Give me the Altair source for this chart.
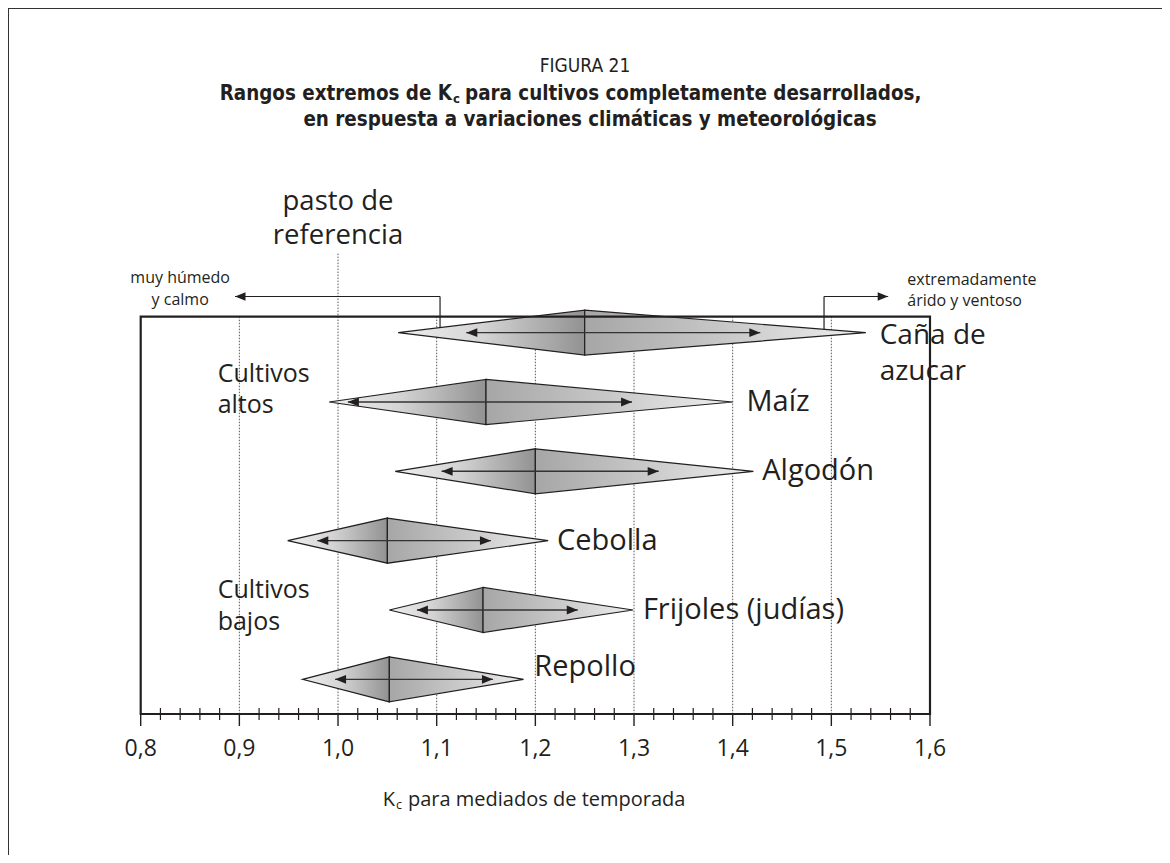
import altair as alt
import pandas as pd

# ---------------- data ----------------
crops = ["Caña de azucar", "Maíz", "Algodón", "Cebolla", "Frijoles (judías)", "Repollo"]
row = [6, 5, 4, 3, 2, 1]
kc_low = [1.061, 0.991, 1.058, 0.949, 1.052, 0.964]
kc_mid = [1.25, 1.15, 1.20, 1.05, 1.147, 1.052]
kc_high = [1.535, 1.40, 1.421, 1.213, 1.299, 1.188]
arrow_low = [1.130, 1.010, 1.105, 0.979, 1.080, 0.997]
arrow_high = [1.428, 1.298, 1.325, 1.155, 1.243, 1.157]
half_h = 0.325

major_ticks = [0.8, 0.9, 1.0, 1.1, 1.2, 1.3, 1.4, 1.5, 1.6]
tick_labels = ["0,8", "0,9", "1,0", "1,1", "1,2", "1,3", "1,4", "1,5", "1,6"]
minor_ticks = [0.82, 0.84, 0.86, 0.88, 0.92, 0.94, 0.96, 0.98,
               1.02, 1.04, 1.06, 1.08, 1.12, 1.14, 1.16, 1.18,
               1.22, 1.24, 1.26, 1.28, 1.32, 1.34, 1.36, 1.38,
               1.42, 1.44, 1.46, 1.48, 1.52, 1.54, 1.56, 1.58]
grid_x = [0.9, 1.0, 1.1, 1.2, 1.3, 1.4, 1.5]
grid_top = [6.23, 7.14, 6.23, 6.23, 6.23, 6.23, 6.23]

label_left_text = ["Caña de", "azucar", "Maíz", "Algodón", "Cebolla", "Frijoles (judías)", "Repollo",
                   "Cultivos", "altos", "Cultivos", "bajos", "extremadamente", "árido y ventoso"]
label_left_x = [1.549, 1.549, 1.414, 1.430, 1.222, 1.309, 1.199,
                0.878, 0.878, 0.878, 0.878, 1.577, 1.577]
label_left_y = [5.954, 5.434, 5.0, 4.0, 3.0, 2.0, 1.18,
                5.405, 4.958, 2.289, 1.827, 6.764, 6.461]
label_left_fs = [28, 28, 29, 29, 29, 29, 29, 25, 25, 25, 25, 16, 16]

label_center_text = ["pasto de", "referencia", "muy húmedo", "y calmo"]
label_center_x = [1.0, 1.0, 0.840, 0.840]
label_center_y = [7.887, 7.397, 6.791, 6.474]
label_center_fs = [27.5, 27.5, 16, 16]

# bracket annotations: (x, x2, y, y2)
bracket_x = [0.8956, 1.1034, 1.4926, 1.4926]
bracket_x2 = [1.1034, 1.1034, 1.5576, 1.4926]
bracket_y = [6.521, 6.521, 6.521, 6.521]
bracket_y2 = [6.521, 6.0, 6.521, 6.0]
bracket_tip_left = [0.8956]
bracket_tip_right = [1.5576]
bracket_tip_y = [6.521]

# ---------------- layout ----------------
W, H = 1154, 847
INK = "#231f20"
FONT = "Open Sans"
TFONT = "Liberation Sans Narrow, DejaVu Sans Condensed, Roboto, sans-serif"

xs = alt.Scale(domain=[0.8, 1.6], range=[132.7, 922])
ys = alt.Scale(domain=[0.5, 6.23], range=[706, 308.7])

left_rows, right_rows = [], []
for c, r, lo, mi, hi in zip(crops, row, kc_low, kc_mid, kc_high):
    left_rows += [dict(crop=c, x=lo, top=r, bot=r), dict(crop=c, x=mi, top=r + half_h, bot=r - half_h)]
    right_rows += [dict(crop=c, x=mi, top=r + half_h, bot=r - half_h), dict(crop=c, x=hi, top=r, bot=r)]
left_df = pd.DataFrame(left_rows)
right_df = pd.DataFrame(right_rows)
arrows_df = pd.DataFrame(dict(crop=crops, r=row, lo=arrow_low, hi=arrow_high))

grad_left = alt.LinearGradient(
    gradient="linear", x1=0, x2=1, y1=0, y2=0,
    stops=[alt.GradientStop(offset=0, color="#efefef"),
           alt.GradientStop(offset=0.45, color="#d4d4d4"),
           alt.GradientStop(offset=1, color="#929292")])
grad_right = alt.LinearGradient(
    gradient="linear", x1=0, x2=1, y1=0, y2=0,
    stops=[alt.GradientStop(offset=0, color="#a6a6a6"),
           alt.GradientStop(offset=0.5, color="#c8c8c8"),
           alt.GradientStop(offset=1, color="#eeeeee")])

def X(f):
    return alt.X(f, scale=xs, axis=None)

def Y(f):
    return alt.Y(f, scale=ys, axis=None)

dummy = pd.DataFrame({"a": [0]})

grid = alt.Chart(pd.DataFrame(dict(x=grid_x, top=grid_top))).mark_rule(
    color="#444444", strokeWidth=0.9, strokeDash=[1.5, 1.5]
).encode(x=X("x:Q"), y=Y("top:Q"), y2=alt.Y2(datum=0.5))

brackets = alt.Chart(pd.DataFrame(dict(x=bracket_x, x2=bracket_x2, y=bracket_y, y2=bracket_y2))).mark_rule(
    color=INK, strokeWidth=1.2
).encode(x=X("x:Q"), x2="x2:Q", y=Y("y:Q"), y2="y2:Q")

LEFT_HEAD = "M0,0L2,-0.8L2,0.8Z"
RIGHT_HEAD = "M0,0L-2,-0.8L-2,0.8Z"

btip_l = alt.Chart(pd.DataFrame(dict(x=bracket_tip_left, y=bracket_tip_y))).mark_point(
    shape=LEFT_HEAD, size=110, filled=True, color=INK, opacity=1, strokeWidth=0
).encode(x=X("x:Q"), y=Y("y:Q"))
btip_r = alt.Chart(pd.DataFrame(dict(x=bracket_tip_right, y=bracket_tip_y))).mark_point(
    shape=RIGHT_HEAD, size=110, filled=True, color=INK, opacity=1, strokeWidth=0
).encode(x=X("x:Q"), y=Y("y:Q"))

left_half = alt.Chart(left_df).mark_area(
    color=grad_left, stroke=INK, strokeWidth=1.2, opacity=1
).encode(x=X("x:Q"), y=Y("top:Q"), y2="bot:Q", detail="crop:N")
right_half = alt.Chart(right_df).mark_area(
    color=grad_right, stroke=INK, strokeWidth=1.2, opacity=1
).encode(x=X("x:Q"), y=Y("top:Q"), y2="bot:Q", detail="crop:N")

arrow_lines = alt.Chart(arrows_df).mark_rule(color="#333333", strokeWidth=1.4).encode(
    x=X("lo:Q"), x2="hi:Q", y=Y("r:Q"))
arrow_l = alt.Chart(arrows_df).mark_point(
    shape=LEFT_HEAD, size=121, filled=True, color=INK, opacity=1, strokeWidth=0
).encode(x=X("lo:Q"), y=Y("r:Q"))
arrow_r = alt.Chart(arrows_df).mark_point(
    shape=RIGHT_HEAD, size=121, filled=True, color=INK, opacity=1, strokeWidth=0
).encode(x=X("hi:Q"), y=Y("r:Q"))

box = alt.Chart(pd.DataFrame(dict(x0=[0.8], x1=[1.6], y0=[0.5], y1=[6.23]))).mark_rect(
    fillOpacity=0, stroke=INK, strokeWidth=2.2
).encode(x=X("x0:Q"), x2="x1:Q", y=Y("y0:Q"), y2="y1:Q")

# axis drawn through the x scale: minor ticks cross the axis line, major ticks hang below it
minor = alt.Chart(pd.DataFrame(dict(x=minor_ticks))).mark_rule(color=INK, strokeWidth=1.2).encode(
    x=X("x:Q"), y=alt.Y(datum=0.413, scale=ys, axis=None), y2=alt.Y2(datum=0.587))
major = alt.Chart(pd.DataFrame(dict(x=major_ticks))).mark_rule(color=INK, strokeWidth=1.4).encode(
    x=X("x:Q"), y=alt.Y(datum=0.327, scale=ys, axis=None), y2=alt.Y2(datum=0.5))
tick_text = alt.Chart(pd.DataFrame(dict(x=major_ticks, t=tick_labels))).mark_text(
    align="center", baseline="middle", font=FONT, fontSize=23, color=INK
).encode(x=X("x:Q"), y=alt.Y(datum=-0.01, scale=ys, axis=None), text="t:N")

labels_left = alt.Chart(pd.DataFrame(dict(t=label_left_text, x=label_left_x, y=label_left_y, fs=label_left_fs))).mark_text(
    align="left", baseline="middle", font=FONT, color=INK
).encode(x=X("x:Q"), y=Y("y:Q"), text="t:N", size=alt.Size("fs:Q", scale=None, legend=None))

labels_center = alt.Chart(pd.DataFrame(dict(t=label_center_text, x=label_center_x, y=label_center_y, fs=label_center_fs))).mark_text(
    align="center", baseline="middle", font=FONT, color=INK
).encode(x=X("x:Q"), y=Y("y:Q"), text="t:N", size=alt.Size("fs:Q", scale=None, legend=None))

def txt(s, x, y, size, align="left", weight="normal", font=FONT):
    return alt.Chart(dummy).mark_text(
        align=align, baseline="middle", font=font, fontSize=size, fontWeight=weight, color=INK
    ).encode(x=alt.value(x), y=alt.value(y), text=alt.value(s))

titles = [
    txt("FIGURA 21", 577, 58, 19, align="center", font=TFONT),
    txt("Rangos extremos de K", 444, 86, 20.4, align="right", weight="bold", font=TFONT),
    txt("c", 445, 91, 13, align="left", weight="bold", font=TFONT),
    txt("para cultivos completamente desarrollados,", 457, 86, 20.4, align="left", weight="bold", font=TFONT),
    txt("en respuesta a variaciones climáticas y meteorológicas", 582, 112, 20.4, align="center", weight="bold", font=TFONT),
    txt("K", 387, 792, 20, align="right"),
    txt("c", 388, 797, 12.5, align="left"),
    txt("para mediados de temporada", 400, 792, 20, align="left"),
]

frame_left = alt.Chart(dummy).mark_rule(color="#333333", strokeWidth=2).encode(
    x=alt.value(0), y=alt.value(0), y2=alt.value(H))
frame_top = alt.Chart(dummy).mark_rule(color="#333333", strokeWidth=2).encode(
    y=alt.value(0), x=alt.value(0), x2=alt.value(W))

chart = alt.layer(
    grid, brackets, btip_l, btip_r, left_half, right_half, arrow_lines, arrow_l, arrow_r,
    box, minor, major, tick_text, labels_left, labels_center, *titles, frame_left, frame_top
).properties(
    width=W, height=H, padding=0, autosize=alt.AutoSizeParams(type="none"), background="white"
).configure_view(stroke="transparent")

chart.save("out.html", embed_options={"renderer": "svg", "actions": False})
